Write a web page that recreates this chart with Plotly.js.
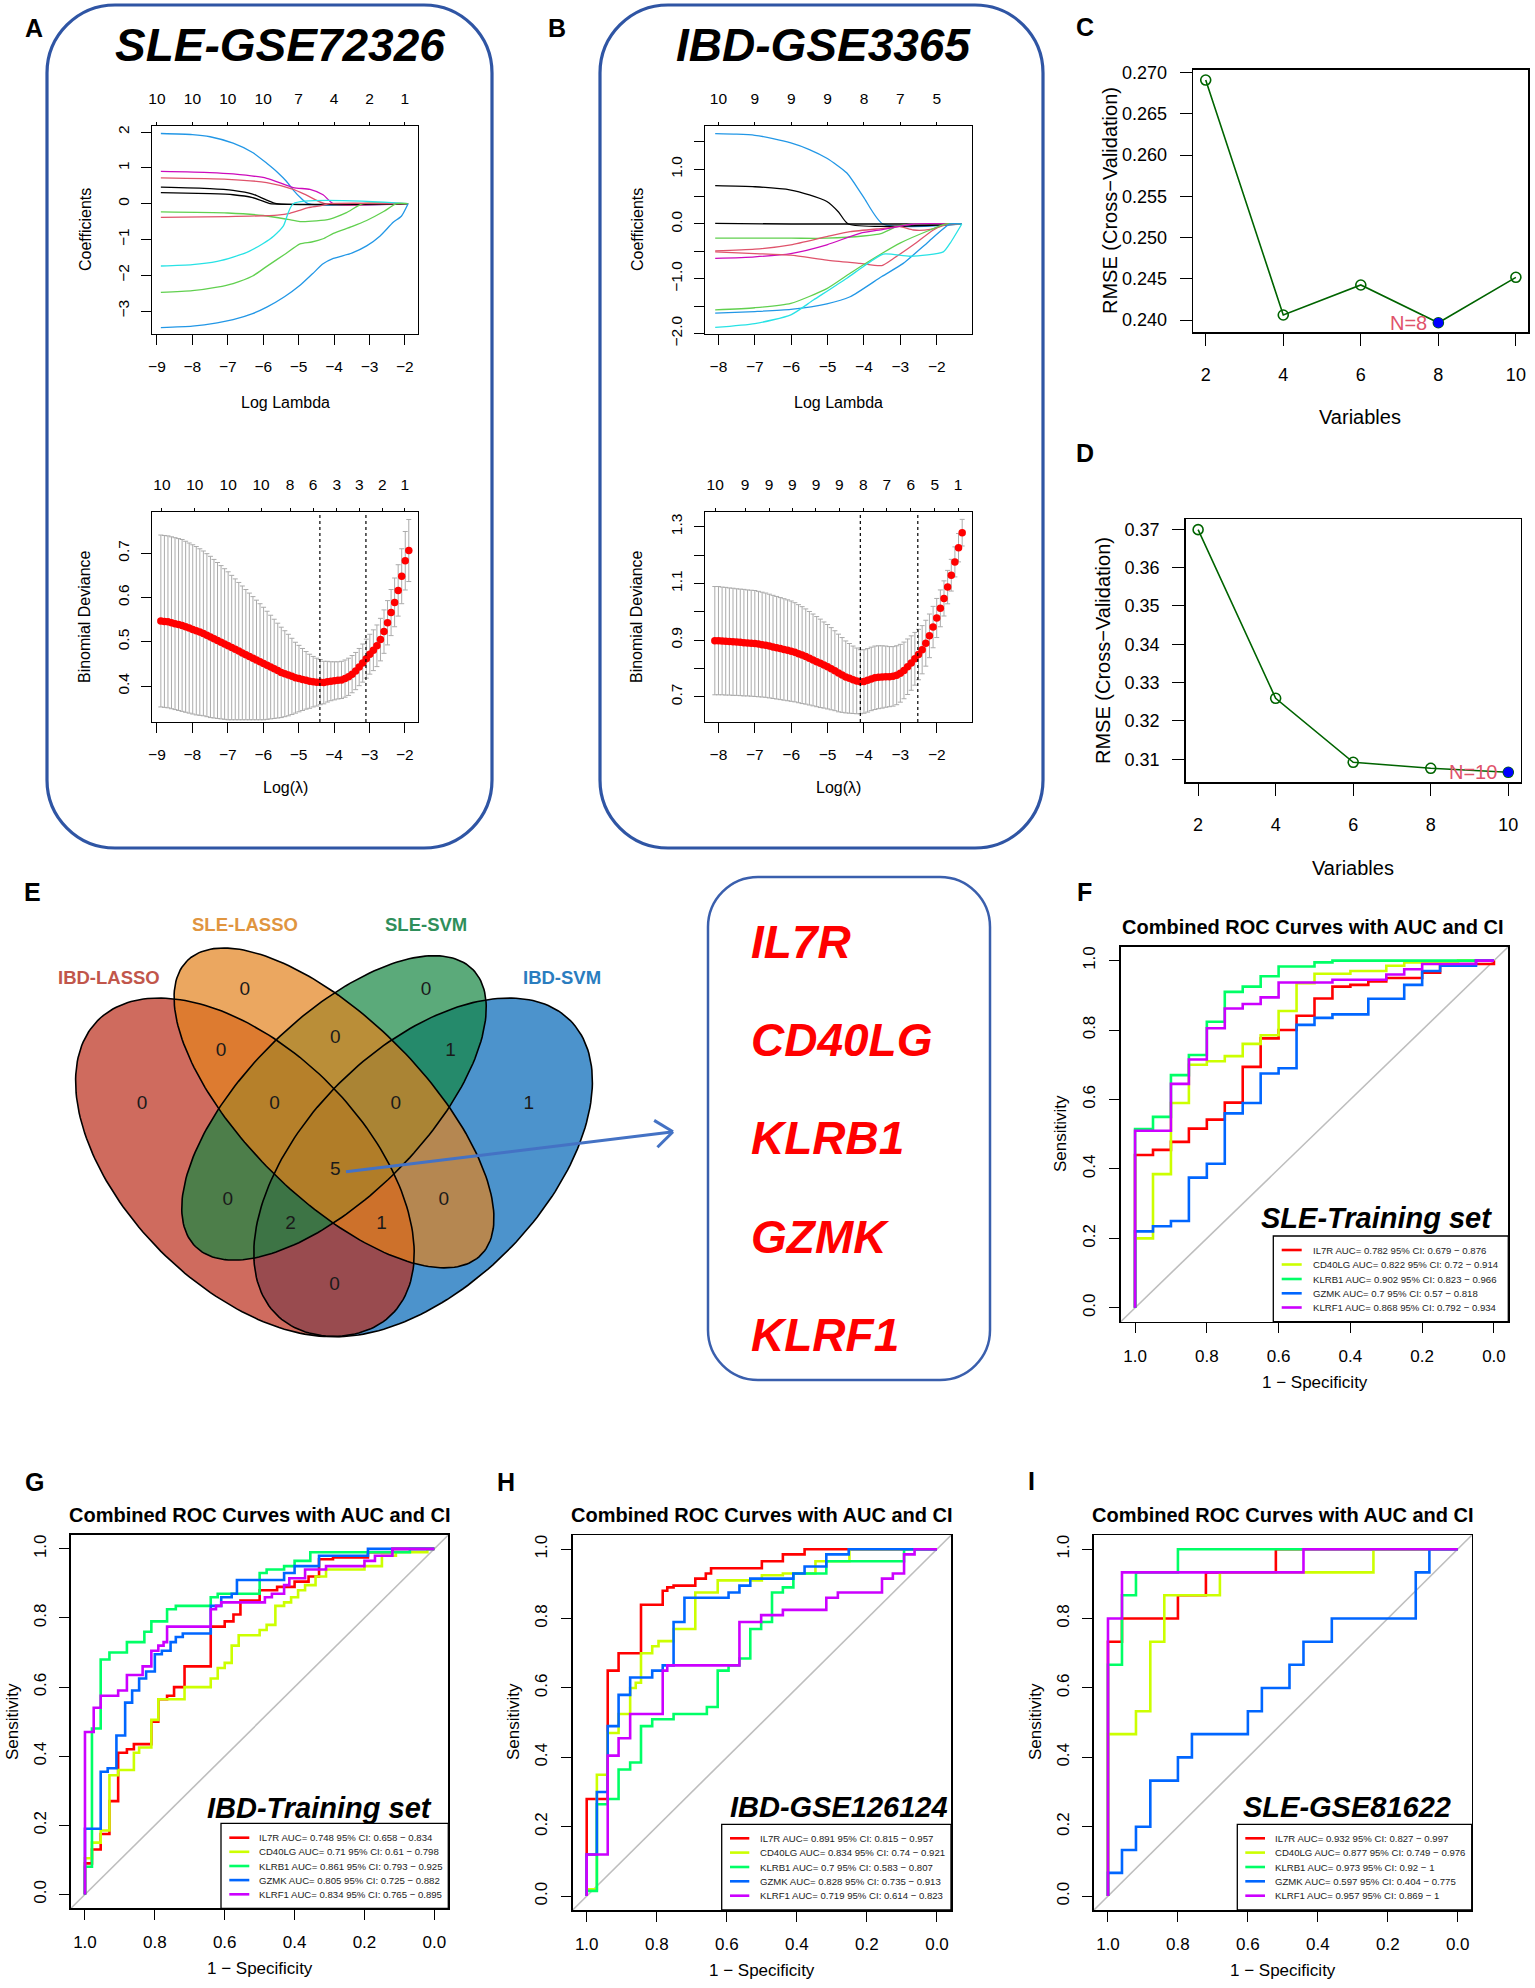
<!DOCTYPE html>
<html><head><meta charset="utf-8">
<script src="https://cdn.plot.ly/plotly-3.0.1.min.js"></script>
<style>html,body{margin:0;padding:0;background:#fff}</style>
</head><body><div id="chart" style="width:1535px;height:1988px"></div>
<script>
// ======================= DATA =======================
const genes = ['IL7R','CD40LG','KLRB1','GZMK','KLRF1'];

// ---- A: SLE-GSE72326 LASSO coefficient paths ----
const sleCoefLogLambda = [
 [-8.89,-8.0,-7.5,-6.85,-6.3,-5.9,-5.6,-5.34,-5.15,-4.96,-4.73,-1.91],
 [-8.89,-7.5,-6.85,-5.9,-5.15,-4.68,-4.31,-4.02,-1.91],
 [-8.89,-7.0,-5.9,-5.15,-4.78,-4.26,-1.91],
 [-8.89,-7.5,-6.85,-6.3,-5.9,-5.62,-1.91],
 [-8.89,-7.5,-6.85,-6.3,-5.95,-5.81,-1.91],
 [-8.89,-7.0,-6.0,-5.3,-4.96,-4.5,-4.12,-3.65,-3.18,-1.91],
 [-8.89,-7.0,-5.6,-5.25,-4.95,-4.73,-4.4,-4.12,-1.91],
 [-8.89,-8.0,-7.3,-6.85,-6.4,-6.0,-5.7,-5.43,-5.15,-1.91],
 [-8.89,-8.0,-7.3,-6.85,-6.3,-5.9,-5.4,-4.96,-4.63,-4.31,-4.02,-3.5,-3.08,-2.6,-2.24,-1.91],
 [-8.89,-8.0,-7.3,-6.85,-6.3,-5.9,-5.4,-4.96,-4.6,-4.31,-4.02,-3.5,-3.08,-2.7,-2.33,-2.1,-1.91]
];
const sleCoefValue = [
 [1.96,1.93,1.87,1.69,1.43,1.13,0.88,0.62,0.38,0.18,0,0],
 [0.90,0.87,0.83,0.71,0.45,0.40,0.25,0,0],
 [0.72,0.68,0.59,0.40,0.24,0,0],
 [0.46,0.42,0.37,0.27,0.10,0,0],
 [0.31,0.28,0.25,0.17,0.05,0,0],
 [-0.23,-0.26,-0.33,-0.44,-0.50,-0.48,-0.43,-0.25,0,0],
 [-0.38,-0.36,-0.32,-0.27,-0.18,-0.11,-0.06,0,0],
 [-1.74,-1.70,-1.61,-1.49,-1.33,-1.11,-0.90,-0.62,0,0],
 [-2.48,-2.43,-2.33,-2.23,-2.02,-1.75,-1.42,-1.12,-1.07,-0.98,-0.83,-0.64,-0.47,-0.22,0,0],
 [-3.46,-3.42,-3.33,-3.24,-3.07,-2.89,-2.60,-2.28,-1.95,-1.68,-1.53,-1.38,-1.18,-0.90,-0.52,-0.35,0]
];
const sleDfLambda = [-9,-8,-7,-6,-5,-4,-3,-2];
const sleDf = ['10','10','10','10','7','4','2','1'];

// ---- A: SLE cross-validation ----
const sleCvLogLambda = [-8.89,-8.79,-8.69,-8.59,-8.49,-8.39,-8.29,-8.19,-8.09,-7.99,
 -7.89,-7.79,-7.69,-7.59,-7.49,-7.39,-7.29,-7.19,-7.09,-6.99,
 -6.89,-6.79,-6.69,-6.59,-6.49,-6.39,-6.29,-6.19,-6.09,-5.99,
 -5.89,-5.79,-5.69,-5.59,-5.49,-5.39,-5.29,-5.19,-5.09,-4.99,
 -4.89,-4.79,-4.69,-4.59,-4.49,-4.39,-4.29,-4.19,-4.09,-3.99,
 -3.89,-3.79,-3.69,-3.59,-3.49,-3.39,-3.29,-3.19,-3.09,-2.99,
 -2.89,-2.79,-2.69,-2.59,-2.49,-2.39,-2.29,-2.19,-2.09,-1.99,-1.89];
const sleCvMean = [.547,.546,.545,.543,.541,.539,.537,.534,.531,.528,
 .525,.522,.519,.515,.511,.507,.503,.499,.495,.491,
 .487,.483,.479,.475,.471,.467,.463,.459,.455,.451,
 .447,.443,.439,.435,.431,.428,.425,.422,.419,.417,
 .415,.413,.411,.410,.409,.409,.408,.410,.411,.412,
 .413,.414,.417,.421,.427,.434,.443,.452,.462,.472,
 .481,.491,.505,.523,.543,.566,.589,.616,.648,.683,.706];
const sleCvSe = [.194,.194,.194,.194,.194,.194,.194,.193,.192,.191,
 .190,.188,.186,.184,.182,.179,.176,.173,.170,.167,
 .163,.159,.155,.151,.147,.143,.139,.135,.131,.127,
 .122,.117,.112,.107,.102,.097,.092,.086,.080,.075,
 .070,.065,.061,.057,.054,.051,.048,.046,.044,.043,
 .042,.042,.042,.042,.042,.042,.042,.043,.044,.045,
 .046,.047,.048,.049,.050,.052,.055,.058,.062,.066,.070];
const sleCvDfLambda = [-8.86,-7.93,-6.99,-6.06,-5.24,-4.59,-3.92,-3.29,-2.64,-2.0];
const sleCvDf = ['10','10','10','10','8','6','3','3','2','1'];
const sleLambdaMin = -4.40, sleLambda1se = -3.10;

// ---- B: IBD-GSE3365 LASSO coefficient paths ----
const ibdCoefLogLambda = [
 [-8.09,-7.5,-7.0,-6.5,-6.01,-5.5,-5.02,-4.47,-4.02,-3.48,-1.31],
 [-8.09,-7.0,-6.01,-5.5,-5.02,-4.7,-4.43,-1.31],
 [-8.09,-6.0,-1.31],
 [-8.09,-6.0,-5.02,-4.02,-3.51,-3.10,-2.64,-1.31],
 [-8.09,-7.0,-6.01,-5.02,-4.38,-3.47,-3.01,-2.64,-2.18,-1.63,-1.31],
 [-8.09,-7.0,-6.01,-5.02,-4.11,-3.47,-3.0,-2.64,-1.31],
 [-8.09,-7.0,-6.01,-5.02,-4.11,-3.51,-3.19,-2.64,-2.09,-1.73,-1.31],
 [-8.09,-7.0,-6.01,-5.02,-4.38,-3.51,-3.01,-2.18,-1.73,-1.31],
 [-8.09,-7.0,-6.01,-5.02,-4.38,-3.51,-2.92,-2.27,-1.63,-1.31],
 [-8.09,-7.0,-6.01,-5.39,-4.47,-4.02,-3.47,-2.73,-1.82,-1.63,-1.31]
];
const ibdCoefValue = [
 [1.65,1.64,1.62,1.56,1.48,1.36,1.20,0.93,0.50,0,0],
 [0.70,0.68,0.62,0.53,0.41,0.22,0,0],
 [0.01,0,0],
 [-0.26,-0.26,-0.26,-0.22,-0.17,-0.05,0,0],
 [-0.49,-0.46,-0.38,-0.23,-0.14,-0.08,-0.05,-0.11,-0.10,0,0],
 [-0.63,-0.60,-0.54,-0.38,-0.17,-0.10,-0.04,0,0],
 [-0.51,-0.54,-0.57,-0.66,-0.72,-0.76,-0.63,-0.38,-0.11,0,0],
 [-1.57,-1.53,-1.45,-1.18,-0.90,-0.54,-0.35,-0.11,0,0],
 [-1.63,-1.60,-1.56,-1.46,-1.33,-0.96,-0.72,-0.35,0,0],
 [-1.89,-1.82,-1.66,-1.39,-0.99,-0.78,-0.55,-0.59,-0.51,-0.35,0]
];
const ibdDfLambda = [-8,-7,-6,-5,-4,-3,-2];
const ibdDf = ['10','9','9','9','8','7','5'];

// ---- B: IBD cross-validation ----
const ibdCvLogLambda = [-8.1,-8.0,-7.9,-7.8,-7.7,-7.6,-7.5,-7.4,-7.3,-7.2,
 -7.1,-7.0,-6.9,-6.8,-6.7,-6.6,-6.5,-6.4,-6.3,-6.2,
 -6.1,-6.0,-5.9,-5.8,-5.7,-5.6,-5.5,-5.4,-5.3,-5.2,
 -5.1,-5.0,-4.9,-4.8,-4.7,-4.6,-4.5,-4.4,-4.3,-4.2,
 -4.1,-4.0,-3.9,-3.8,-3.7,-3.6,-3.5,-3.4,-3.3,-3.2,
 -3.1,-3.0,-2.9,-2.8,-2.7,-2.6,-2.5,-2.4,-2.3,-2.2,
 -2.1,-2.0,-1.9,-1.8,-1.7,-1.6,-1.5,-1.4,-1.3];
const ibdCvMean = [.898,.898,.897,.896,.895,.894,.893,.892,.891,.890,
 .889,.888,.886,.884,.882,.879,.876,.873,.870,.867,
 .864,.861,.857,.852,.847,.842,.836,.830,.824,.818,
 .812,.806,.799,.792,.784,.777,.770,.765,.760,.756,
 .753,.754,.758,.763,.767,.769,.770,.771,.771,.772,
 .776,.783,.793,.806,.819,.834,.849,.866,.889,.915,
 .946,.978,1.012,1.047,1.087,1.129,1.176,1.226,1.279];
const ibdCvSe = [.191,.191,.190,.190,.189,.189,.188,.188,.188,.187,
 .187,.187,.186,.185,.184,.183,.182,.181,.180,.179,
 .178,.177,.175,.173,.171,.168,.165,.162,.159,.156,
 .152,.149,.145,.141,.137,.132,.127,.123,.119,.116,
 .113,.112,.112,.112,.112,.111,.110,.108,.106,.105,
 .104,.102,.100,.098,.096,.093,.089,.085,.081,.077,
 .073,.069,.065,.062,.059,.056,.053,.050,.047];
const ibdCvDfLambda = [-8.09,-7.27,-6.61,-5.97,-5.32,-4.68,-4.02,-3.37,-2.71,-2.05,-1.41];
const ibdCvDf = ['10','9','9','9','9','9','8','7','6','5','1'];
const ibdLambdaMin = -4.10, ibdLambda1se = -2.52;

// ---- C / D: SVM-RFE ----
const svmVariables = [2,4,6,8,10];
const sleSvmRmse = [0.26911,0.24061,0.24425,0.23967,0.24518];
const ibdSvmRmse = [0.36990,0.32591,0.30922,0.30765,0.30661];

// ---- E: Venn ----
const vennSets = ['IBD-LASSO','SLE-LASSO','SLE-SVM','IBD-SVM'];
const vennRegions = ['1000','0100','0010','0001','1100','0110','0011','1110','0111','1111','1010','0101','1011','1101','1001'];
const vennCounts = [0,0,0,1,0,0,1,0,0,5,0,0,2,1,0];

// ---- F-I: ROC (specificity, sensitivity), step levels ----
const rocSleTrainSpec = [
 [1,0.95,0.90,0.85,0.80,0.75,0.70,0.65,0.60,0.55,0.50,0.45,0.40,0.35,0.30,0.20,0.15,0,0],
 [1,0.95,0.90,0.85,0.80,0.75,0.70,0.65,0.60,0.55,0.50,0.40,0.30,0.25,0.10,0],
 [1,0.95,0.90,0.85,0.80,0.75,0.70,0.65,0.60,0.50,0.45,0],
 [1,0.95,0.90,0.85,0.80,0.75,0.70,0.65,0.60,0.55,0.50,0.45,0.35,0.25,0.20,0.15,0.05,0],
 [1,0.90,0.85,0.80,0.75,0.70,0.65,0.60,0.45,0.30,0.25,0.20,0.05,0]];
const rocSleTrainSens = [
 [0,0.44,0.455,0.478,0.516,0.542,0.591,0.694,0.776,0.80,0.841,0.891,0.925,0.93,0.94,0.95,0.965,0.99,1],
 [0,0.20,0.385,0.59,0.70,0.71,0.725,0.76,0.785,0.855,0.935,0.962,0.97,0.985,0.995,1],
 [0,0.515,0.55,0.67,0.728,0.824,0.91,0.925,0.955,0.983,0.995,1],
 [0,0.22,0.235,0.25,0.375,0.415,0.56,0.59,0.675,0.69,0.815,0.835,0.845,0.89,0.93,0.97,0.985,1],
 [0,0.51,0.645,0.715,0.805,0.862,0.875,0.894,0.937,0.945,0.96,0.975,0.99,1]];
const aucSleTrain = [0.782,0.822,0.902,0.7,0.868];
const ciLoSleTrain = [0.679,0.72,0.823,0.57,0.792];
const ciHiSleTrain = [0.876,0.914,0.966,0.818,0.934];

const rocIbdTrainSpec = [
 [1,0.98,0.955,0.93,0.905,0.88,0.86,0.81,0.79,0.765,0.745,0.715,0.64,0.60,0.575,0.555,0.50,0.45,0.40,0.36,0.33,0.29,0.19,0.12,0],
 [1,0.98,0.955,0.93,0.905,0.86,0.845,0.81,0.79,0.715,0.64,0.62,0.60,0.58,0.56,0.50,0.48,0.455,0.43,0.41,0.39,0.37,0.34,0.31,0.20,0.15,0.11,0.02,0],
 [1,0.98,0.955,0.93,0.88,0.83,0.81,0.765,0.74,0.64,0.62,0.50,0.48,0.43,0.40,0.355,0.31,0.07,0],
 [1,0.955,0.935,0.91,0.885,0.865,0.845,0.825,0.80,0.78,0.755,0.74,0.72,0.64,0.61,0.58,0.565,0.43,0.40,0.33,0.19,0],
 [1,0.975,0.955,0.905,0.88,0.835,0.81,0.79,0.775,0.765,0.64,0.625,0.61,0.485,0.465,0.43,0.415,0.37,0.31,0.20,0.17,0.12,0]];
const rocIbdTrainSens = [
 [0,0.09,0.13,0.175,0.27,0.41,0.42,0.435,0.50,0.565,0.575,0.60,0.66,0.775,0.79,0.81,0.85,0.88,0.89,0.905,0.92,0.97,0.975,0.99,1],
 [0,0.105,0.15,0.185,0.345,0.36,0.41,0.425,0.505,0.565,0.60,0.625,0.655,0.67,0.72,0.75,0.765,0.78,0.835,0.845,0.86,0.88,0.895,0.92,0.94,0.95,0.98,0.99,1],
 [0,0.08,0.48,0.68,0.70,0.73,0.76,0.79,0.825,0.835,0.86,0.87,0.93,0.94,0.95,0.965,0.99,0.99,1],
 [0,0.19,0.355,0.365,0.46,0.555,0.59,0.625,0.645,0.695,0.705,0.73,0.745,0.755,0.835,0.86,0.87,0.91,0.93,0.95,0.98,1],
 [0,0.47,0.54,0.575,0.59,0.635,0.66,0.705,0.72,0.73,0.775,0.825,0.835,0.845,0.86,0.87,0.895,0.915,0.94,0.95,0.965,0.98,1]];
const aucIbdTrain = [0.748,0.71,0.861,0.805,0.834];
const ciLoIbdTrain = [0.658,0.61,0.793,0.725,0.765];
const ciHiIbdTrain = [0.834,0.798,0.925,0.882,0.895];

const rocIbdTestSpec = [
 [1,0.94,0.909,0.845,0.783,0.77,0.752,0.69,0.66,0.645,0.50,0.44,0.378,0],
 [1,0.971,0.94,0.909,0.876,0.86,0.845,0.813,0.795,0.752,0.69,0.626,0.50,0.44,0.347,0.25,0],
 [1,0.971,0.94,0.909,0.876,0.845,0.813,0.752,0.657,0.626,0.595,0.564,0.533,0.502,0.471,0.44,0.41,0.316,0.094,0],
 [1,0.971,0.94,0.909,0.876,0.813,0.783,0.752,0.721,0.595,0.564,0.533,0.41,0.378,0.316,0.252,0],
 [1,0.94,0.909,0.876,0.783,0.77,0.564,0.502,0.44,0.316,0.283,0.157,0.126,0.094,0.064,0]];
const rocIbdTestSens = [
 [0,0.28,0.65,0.70,0.84,0.88,0.89,0.895,0.915,0.93,0.945,0.965,0.985,1],
 [0,0.02,0.35,0.47,0.525,0.60,0.615,0.70,0.72,0.735,0.77,0.875,0.91,0.925,0.93,0.965,1],
 [0,0.015,0.265,0.28,0.365,0.385,0.49,0.51,0.525,0.545,0.65,0.665,0.685,0.77,0.79,0.875,0.89,0.93,0.965,1],
 [0,0.12,0.30,0.49,0.58,0.63,0.65,0.665,0.79,0.86,0.875,0.895,0.915,0.93,0.95,0.985,1],
 [0,0.12,0.405,0.455,0.525,0.65,0.665,0.79,0.81,0.825,0.86,0.875,0.915,0.93,0.985,1]];
const aucIbdTest = [0.891,0.834,0.7,0.828,0.719];
const ciLoIbdTest = [0.815,0.74,0.583,0.735,0.614];
const ciHiIbdTest = [0.957,0.921,0.807,0.913,0.823];

const rocSleTestSpec = [
 [1,0.96,0.80,0.72,0.68,0.52,0],
 [1,0.92,0.879,0.839,0.68,0.241,0],
 [1,0.96,0.92,0.80,0],
 [1,0.96,0.92,0.879,0.80,0.76,0.60,0.56,0.481,0.441,0.36,0.12,0.081,0],
 [1,0.96,0.441,0]];
const rocSleTestSens = [
 [0,0.733,0.80,0.867,0.933,0.933,1],
 [0,0.467,0.533,0.733,0.867,0.933,1],
 [0,0.667,0.867,0.933,1],
 [0,0.067,0.133,0.20,0.333,0.40,0.467,0.533,0.60,0.667,0.733,0.80,0.933,1],
 [0,0.80,0.933,1]];
const aucSleTest = [0.932,0.877,0.973,0.597,0.957];
const ciLoSleTest = [0.827,0.749,0.92,0.404,0.869];
const ciHiSleTest = [0.997,0.976,1,0.775,1];

// ======================= LAYOUT / STYLE =======================
const W = 1535, H = 1988;
const FONT = '"Liberation Sans", Arial, Helvetica, sans-serif';
const px = x => x / W, py = y => 1 - y / H;
const A = n => (n === 1 ? '' : String(n));
const traces = [];
const layout = {width:W, height:H, margin:{l:0,r:0,t:0,b:0}, paper_bgcolor:'#fff', plot_bgcolor:'rgba(0,0,0,0)',
  showlegend:false, hovermode:false, font:{family:FONT, color:'#000'}, annotations:[], shapes:[]};

const LF = 15.5;   // lasso tick font
function tf(size){ return {family:FONT, size:size, color:'#000'}; }
function baseAxis(){ return {showgrid:false, zeroline:false, showline:true, mirror:true, linecolor:'#000', linewidth:1.2,
  ticks:'outside', tickcolor:'#000', tickwidth:1, ticklen:10, fixedrange:true, tickfont:tf(LF), tickmode:'array'}; }
function panelAxes(n, box, xr, yr, xo, yo){
  layout['xaxis'+A(n)] = Object.assign(baseAxis(), {domain:[px(box[0]),px(box[1])], range:xr, anchor:'y'+A(n)}, xo||{});
  layout['yaxis'+A(n)] = Object.assign(baseAxis(), {domain:[py(box[3]),py(box[2])], range:yr, anchor:'x'+A(n)}, yo||{});
}
function topAxis(n, base, vals, labels){
  layout['xaxis'+n] = {overlaying:'x'+A(base), side:'top', anchor:'y'+A(base), range:layout['xaxis'+A(base)].range,
    tickmode:'array', tickvals:vals, ticktext:labels, ticks:'outside', ticklen:3, tickcolor:'#000',
    showline:false, showgrid:false, zeroline:false, fixedrange:true, tickfont:tf(LF), ticklabelstandoff:12};
  traces.push({type:'scatter', mode:'markers', x:[], y:[], xaxis:'x'+n, yaxis:'y'+A(base), hoverinfo:'skip', showlegend:false});
}
function txt(x, y, text, o){
  layout.annotations.push(Object.assign({xref:'paper', yref:'paper', x:px(x), y:py(y), text:text, showarrow:false,
    xanchor:'center', yanchor:'middle', font:tf(16)}, o||{}));
}
function roundRect(x0, y0, x1, y1, r, color, w){
  const k = 0.5523*r, X = px, Y = py;
  const d = `M${X(x0+r)},${Y(y0)} L${X(x1-r)},${Y(y0)} C${X(x1-r+k)},${Y(y0)} ${X(x1)},${Y(y0+r-k)} ${X(x1)},${Y(y0+r)} `+
    `L${X(x1)},${Y(y1-r)} C${X(x1)},${Y(y1-r+k)} ${X(x1-r+k)},${Y(y1)} ${X(x1-r)},${Y(y1)} `+
    `L${X(x0+r)},${Y(y1)} C${X(x0+r-k)},${Y(y1)} ${X(x0)},${Y(y1-r+k)} ${X(x0)},${Y(y1-r)} `+
    `L${X(x0)},${Y(y0+r)} C${X(x0)},${Y(y0+r-k)} ${X(x0+r-k)},${Y(y0)} ${X(x0+r)},${Y(y0)} Z`;
  layout.shapes.push({type:'path', xref:'paper', yref:'paper', path:d, line:{color:color, width:w}, fillcolor:'rgba(0,0,0,0)', layer:'above'});
}
function pline(x0,y0,x1,y1,color,w,dash){
  layout.shapes.push({type:'line', xref:'paper', yref:'paper', x0:px(x0), y0:py(y0), x1:px(x1), y1:py(y1),
    line:{color:color, width:w, dash:dash||'solid'}, layer:'above'});
}

// ---------- frames, panel letters ----------
const FRAME = '#2F55A4';
roundRect(47, 5, 492, 848, 68, FRAME, 3.2);
roundRect(600, 5, 1043, 848, 68, FRAME, 3.2);
roundRect(708, 877, 990, 1380, 50, '#3A5FAD', 2.5);
const letters = [['A',34,28],['B',557,28],['C',1085,27],['D',1085,453],['E',32,892],['F',1084,892],['G',34,1482],['H',506,1482],['I',1031,1481]];
letters.forEach(l => txt(l[1], l[2], '<b>'+l[0]+'</b>', {font:tf(25)}));
txt(280, 45, '<b><i>SLE-GSE72326</i></b>', {font:tf(46)});
txt(823, 45, '<b><i>IBD-GSE3365</i></b>', {font:tf(46)});

// ---------- LASSO coefficient paths ----------
const colsA = ['#2297E6','#CD0BBC','#DF536B','#000000','#000000','#61D04F','#DF536B','#28E2E5','#61D04F','#2297E6'];
const colsB = ['#2297E6','#000000','#000000','#61D04F','#DF536B','#CD0BBC','#DF536B','#61D04F','#2297E6','#28E2E5'];
const yRot = {tickangle:-90, ticklabelstandoff:6};
panelAxes(1, [152,418,126,334], [-9.14,-1.63], [-3.64,2.17],
  {tickvals:[-9,-8,-7,-6,-5,-4,-3,-2], ticklabelstandoff:8},
  Object.assign({tickvals:[-3,-2,-1,0,1,2]}, yRot));
sleCoefLogLambda.forEach((xs,i) => traces.push({type:'scatter', mode:'lines', x:xs, y:sleCoefValue[i], xaxis:'x', yaxis:'y',
  line:{color:colsA[i], width:1.3, shape:'spline', smoothing:0.6}, hoverinfo:'skip'}));
topAxis(12, 1, sleDfLambda, sleDf);

panelAxes(3, [705,972,126,334], [-8.37,-1.03], [-2.01,1.79],
  {tickvals:[-8,-7,-6,-5,-4,-3,-2], ticklabelstandoff:8},
  Object.assign({tickvals:[-2,-1.5,-1,-0.5,0,0.5,1,1.5], ticktext:['\u22122.0','','\u22121.0','','0.0','','1.0','']}, yRot));
ibdCoefLogLambda.forEach((xs,i) => traces.push({type:'scatter', mode:'lines', x:xs, y:ibdCoefValue[i], xaxis:'x3', yaxis:'y3',
  line:{color:colsB[i], width:1.3, shape:'spline', smoothing:0.6}, hoverinfo:'skip'}));
topAxis(14, 3, ibdDfLambda, ibdDf);

// ---------- LASSO CV ----------
function cvPanel(n, box, xr, yr, xt, yo, lx, mean, se, lmin, l1se, topN, dfl, df){
  panelAxes(n, box, xr, yr, {tickvals:xt, ticklabelstandoff:8}, Object.assign(yo, yRot));
  traces.push({type:'scatter', mode:'markers', x:lx, y:mean, xaxis:'x'+A(n), yaxis:'y'+A(n), hoverinfo:'skip',
    marker:{color:'#FF0000', size:7.5, line:{width:0}},
    error_y:{type:'data', array:se, visible:true, color:'#ABABAB', thickness:1, width:2.5}});
  [lmin, l1se].forEach(v => layout.shapes.push({type:'line', xref:'x'+A(n), yref:'y'+A(n)+' domain', x0:v, x1:v, y0:0, y1:1,
    line:{color:'#000', width:1.2, dash:'dot'}, layer:'above'}));
  topAxis(topN, n, dfl, df);
}
cvPanel(2, [152,418,512,722], [-9.14,-1.63], [0.319,0.793], [-9,-8,-7,-6,-5,-4,-3,-2],
  {tickvals:[0.4,0.5,0.6,0.7], tickformat:'.1f'}, sleCvLogLambda, sleCvMean, sleCvSe, sleLambdaMin, sleLambda1se, 13, sleCvDfLambda, sleCvDf);
cvPanel(4, [705,972,512,722], [-8.37,-1.03], [0.611,1.352], [-8,-7,-6,-5,-4,-3,-2],
  {tickvals:[0.7,0.8,0.9,1.0,1.1,1.2,1.3], ticktext:['0.7','','0.9','','1.1','','1.3']}, ibdCvLogLambda, ibdCvMean, ibdCvSe, ibdLambdaMin, ibdLambda1se, 15, ibdCvDfLambda, ibdCvDf);

// lasso axis titles
[[85,230,'Coefficients',-90],[285,403,'Log Lambda',0],[85,617,'Binomial Deviance',-90],[285,787,'Log(\u03bb)',0],
 [637,230,'Coefficients',-90],[838,403,'Log Lambda',0],[637,617,'Binomial Deviance',-90],[838,787,'Log(\u03bb)',0]]
 .forEach(t => txt(t[0], t[1], t[2], {textangle:t[3], font:tf(16)}));

// ---------- C / D : SVM-RFE ----------
function svmPanel(n, box, yr, yt, yfmt, rmse, ytl, xtl){
  panelAxes(n, box, [1.68,10.32], yr,
    {tickvals:svmVariables, ticklen:12, tickfont:tf(18), ticklabelstandoff:13, linewidth:1.6},
    {tickvals:yt, tickformat:yfmt, ticklen:12, tickfont:tf(18), ticklabelstandoff:9, linewidth:1.6});
  traces.push({type:'scatter', mode:'lines+markers', x:svmVariables, y:rmse, xaxis:'x'+A(n), yaxis:'y'+A(n), hoverinfo:'skip',
    line:{color:'#006400', width:1.6}, marker:{symbol:'circle-open', size:10, color:'#006400', line:{width:1.6, color:'#006400'}}});
  let k = 0; rmse.forEach((v,i) => { if (v < rmse[k]) k = i; });
  traces.push({type:'scatter', mode:'markers', x:[svmVariables[k]], y:[rmse[k]], xaxis:'x'+A(n), yaxis:'y'+A(n), hoverinfo:'skip',
    marker:{color:'#0000FF', size:10}});
  layout.annotations.push({xref:'x'+A(n), yref:'y'+A(n), x:svmVariables[k], y:rmse[k], text:'N='+svmVariables[k], showarrow:false,
    xanchor:'right', yanchor:'middle', xshift:-9, font:{family:FONT, size:20, color:'#DF536B'}});
  txt(ytl[0], ytl[1], 'RMSE (Cross\u2212Validation)', {textangle:-90, font:tf(20)});
  txt(xtl[0], xtl[1], 'Variables', {font:tf(20)});
}
svmPanel(5, [1193.3,1528.3,70,332.3], [0.23851,0.27033], [0.240,0.245,0.250,0.255,0.260,0.265,0.270], '.3f', sleSvmRmse, [1110,201], [1360,417]);
svmPanel(6, [1185.7,1520.7,519.3,782.3], [0.3040,0.3726], [0.31,0.32,0.33,0.34,0.35,0.36,0.37], '.2f', ibdSvmRmse, [1103,651], [1353,868]);

// ---------- E : Venn ----------
layout.xaxis11 = {domain:[px(37),px(631)], range:[0,1], visible:false, fixedrange:true, anchor:'y11'};
layout.yaxis11 = {domain:[py(1446.5),py(852.5)], range:[0,1], visible:false, fixedrange:true, anchor:'x11'};
const vennGeom = [ {cx:0.35,cy:0.47,a:0.35,b:0.20,rot:135}, {cx:0.50,cy:0.57,a:0.35,b:0.15,rot:135},
                   {cx:0.50,cy:0.57,a:0.33,b:0.15,rot:45},  {cx:0.65,cy:0.47,a:0.35,b:0.20,rot:45} ];
const vennFill = ['rgba(186,44,25,0.7)','rgba(226,129,28,0.7)','rgba(21,134,65,0.7)','rgba(0,101,182,0.7)'];
const vennLabelColor = ['#C1564B','#E0953F','#2F8F5B','#2A7DBF'];
const vennSetLabelXY = [[109,977],[245,924],[426,924],[562,977]];
const vennDrawOrder = [3,0,2,1];
const vennLabelXY = {'1000':[0.177,0.576],'0100':[0.350,0.768],'0010':[0.655,0.768],'0001':[0.828,0.576],
  '1100':[0.310,0.666],'0110':[0.502,0.687],'0011':[0.696,0.666],'1110':[0.400,0.576],'0111':[0.604,0.576],
  '1111':[0.502,0.465],'1010':[0.321,0.415],'0101':[0.685,0.415],'1011':[0.427,0.375],'1101':[0.580,0.375],'1001':[0.501,0.272]};
function ellipse(g){
  const t = g.rot*Math.PI/180, xs = [], ys = [];
  for (let i = 0; i <= 200; i++){ const u = i/200*2*Math.PI;
    xs.push(g.cx + g.a*Math.cos(u)*Math.cos(t) - g.b*Math.sin(u)*Math.sin(t));
    ys.push(g.cy + g.a*Math.cos(u)*Math.sin(t) + g.b*Math.sin(u)*Math.cos(t)); }
  return {xs, ys};
}
vennDrawOrder.forEach(k => { const e = ellipse(vennGeom[k]);
  traces.push({type:'scatter', mode:'lines', x:e.xs, y:e.ys, fill:'toself', fillcolor:vennFill[k], line:{width:0, color:'rgba(0,0,0,0)'},
    xaxis:'x11', yaxis:'y11', hoverinfo:'skip'}); });
vennDrawOrder.forEach(k => { const e = ellipse(vennGeom[k]);
  traces.push({type:'scatter', mode:'lines', x:e.xs, y:e.ys, line:{width:1.6, color:'#000'}, xaxis:'x11', yaxis:'y11', hoverinfo:'skip'}); });
traces.push({type:'scatter', mode:'text', x:vennRegions.map(r => vennLabelXY[r][0]), y:vennRegions.map(r => vennLabelXY[r][1]),
  text:vennCounts.map(String), textfont:{family:FONT, size:19, color:'#1a1a1a'}, xaxis:'x11', yaxis:'y11', hoverinfo:'skip'});
vennSets.forEach((s,i) => txt(vennSetLabelXY[i][0], vennSetLabelXY[i][1], '<b>'+s+'</b>', {font:{family:FONT, size:18.5, color:vennLabelColor[i]}}));

// arrow from the shared region to the gene list
(function(){
  const x0 = 346, y0 = 1171.7, x1 = 673, y1 = 1131.7, c = '#4472C4';
  pline(x0, y0, x1-1.5, y1+0.2, c, 3);
  const ang = Math.atan2(y1-y0, x1-x0), L = 22, sp = 38*Math.PI/180;
  [ang+sp, ang-sp].forEach(a => pline(x1, y1, x1 - L*Math.cos(a), y1 - L*Math.sin(a), c, 3));
})();
const geneY = [942, 1040, 1138, 1237, 1335];
genes.forEach((g,i) => txt(749, geneY[i], '<b><i>'+g+'</i></b>', {xanchor:'left', font:{family:FONT, size:46, color:'#FF0000'}}));

// ---------- F-I : ROC ----------
const rocColors = ['#FF0000','#CCFF00','#00FF66','#0066FF','#CC00FF'];
const rocPanels = [
 {id:7, box:[1120.7,1508.3,946.7,1321.7], spec:rocSleTrainSpec, sens:rocSleTrainSens, auc:aucSleTrain, lo:ciLoSleTrain, hi:ciHiSleTrain,
  name:'SLE-Training set', nameXY:[1376,1218], leg:{x0:1273.3, y0:1236, ys:[1250,1264.5,1279,1293.3,1307.5], l0:1281.7, l1:1301.7, tx:1310.7},
  title:[1313,927], ylab:[1060,1134], xlab:[1315,1382]},
 {id:8, box:[71,448.3,1535,1908.3], spec:rocIbdTrainSpec, sens:rocIbdTrainSens, auc:aucIbdTrain, lo:ciLoIbdTrain, hi:ciHiIbdTrain,
  name:'IBD-Training set', nameXY:[319,1808], leg:{x0:221, y0:1823.3, ys:[1837.7,1851.8,1866,1880.1,1894.3], l0:229.3, l1:249.3, tx:257.3},
  title:[260,1515], ylab:[12,1722], xlab:[260,1968]},
 {id:9, box:[572.7,951,1535.3,1910], spec:rocIbdTestSpec, sens:rocIbdTestSens, auc:aucIbdTest, lo:ciLoIbdTest, hi:ciHiIbdTest,
  name:'IBD-GSE126124', nameXY:[839,1807], leg:{x0:721.7, y0:1824.3, ys:[1838.3,1852.6,1867,1881.3,1895.7], l0:730, l1:749.3, tx:758.3},
  title:[762,1515], ylab:[513,1722], xlab:[762,1970]},
 {id:10, box:[1094,1471.7,1535.3,1910], spec:rocSleTestSpec, sens:rocSleTestSens, auc:aucSleTest, lo:ciLoSleTest, hi:ciHiSleTest,
  name:'SLE-GSE81622', nameXY:[1347,1807], leg:{x0:1237.3, y0:1824.3, ys:[1838.3,1852.6,1867,1881.3,1895.7], l0:1245.3, l1:1265, tx:1273.3},
  title:[1283,1515], ylab:[1035,1722], xlab:[1283,1970]}
];
rocPanels.forEach(p => {
  const n = p.id;
  panelAxes(n, p.box, [1.04,-0.04], [-0.04,1.04],
    {tickvals:[0,0.2,0.4,0.6,0.8,1], tickformat:'.1f', tickfont:tf(17), ticklabelstandoff:8, linewidth:1.6},
    {tickvals:[0,0.2,0.4,0.6,0.8,1], tickformat:'.1f', tickfont:tf(17), tickangle:-90, ticklabelstandoff:7, linewidth:1.6});
  layout.shapes.push({type:'line', xref:'x'+A(n)+' domain', yref:'y'+A(n)+' domain', x0:0, y0:0, x1:1, y1:1,
    line:{color:'#BEBEBE', width:1.6}, layer:'below'});
  p.spec.forEach((xs,i) => traces.push({type:'scatter', mode:'lines', x:xs, y:p.sens[i], xaxis:'x'+A(n), yaxis:'y'+A(n),
    line:{color:rocColors[i], width:2.6, shape:'vh'}, hoverinfo:'skip'}));
  txt(p.title[0], p.title[1], '<b>Combined ROC Curves with AUC and CI</b>', {font:tf(20)});
  txt(p.ylab[0], p.ylab[1], 'Sensitivity', {textangle:-90, font:tf(17)});
  txt(p.xlab[0], p.xlab[1], '1 \u2212 Specificity', {font:tf(17)});
  txt(p.nameXY[0], p.nameXY[1], '<b><i>'+p.name+'</i></b>', {font:tf(29)});
  layout.shapes.push({type:'rect', xref:'paper', yref:'paper', x0:px(p.leg.x0), x1:px(p.box[1]), y0:py(p.box[3]), y1:py(p.leg.y0),
    line:{color:'#000', width:1.3}, fillcolor:'#fff', layer:'above'});
  genes.forEach((g,i) => {
    pline(p.leg.l0, p.leg.ys[i], p.leg.l1, p.leg.ys[i], rocColors[i], 2.6);
    txt(p.leg.tx, p.leg.ys[i], g+' AUC= '+p.auc[i]+' 95% CI: '+p.lo[i]+' \u2212 '+p.hi[i],
      {xanchor:'left', font:{family:FONT, size:9.6, color:'#222'}});
  });
});

Plotly.newPlot('chart', traces, layout, {staticPlot:true, displayModeBar:false});
</script></body></html>
